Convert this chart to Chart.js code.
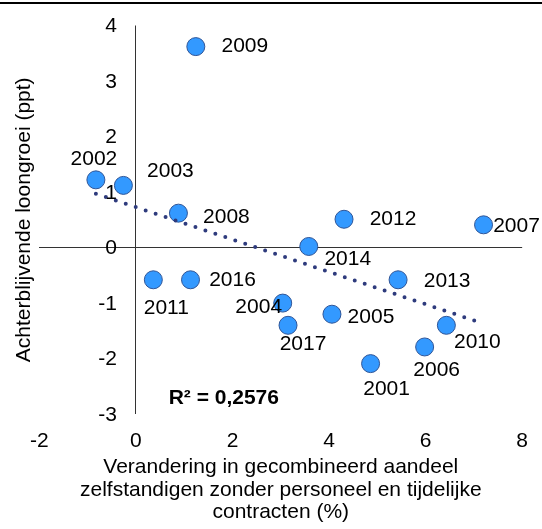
<!DOCTYPE html>
<html>
<head>
<meta charset="utf-8">
<script src="https://cdn.jsdelivr.net/npm/chart.js@4/dist/chart.umd.min.js"></script>
<style>
  html, body { margin: 0; padding: 0; background: #fff; }
  #wrap { width: 542px; height: 529px; position: relative; }
</style>
</head>
<body>
<div id="wrap"><canvas id="chart"></canvas></div>
<script>
// values
const years = ['2001', '2002', '2003', '2004', '2005', '2006', '2007', '2008',
               '2009', '2010', '2011', '2012', '2013', '2014', '2016', '2017'];
const shareChange = [4.86, -0.83, -0.26, 3.04, 4.06, 5.98, 7.20, 0.88,
                     1.24, 6.43, 0.36, 4.31, 5.43, 3.58, 1.13, 3.15];
const wageGap = [-2.09, 1.22, 1.12, -1.00, -1.20, -1.79, 0.41, 0.62,
                 3.62, -1.40, -0.58, 0.51, -0.58, 0.02, -0.58, -1.40];
const trendX = [-0.83, 7.20];
const trendY = [0.97, -1.37];
const rSquared = 'R² = 0,2576';

const FONT = '"Liberation Sans", Arial, sans-serif';

// where each year label sits relative to its point (px)
const labelOffset = {
  '2001': [16, 26], '2002': [-2, -21], '2003': [47, -14], '2004': [-24, 4],
  '2005': [39, 3],  '2006': [12, 23],  '2007': [33, 1],   '2008': [48, 4],
  '2009': [49, 0],  '2010': [31, 17],  '2011': [13, 28],  '2012': [49, 0],
  '2013': [49, 1],  '2014': [39, 13],  '2016': [42, 0],   '2017': [15, 19]
};

const extras = {
  id: 'extras',
  beforeDraw(chart) {
    const ctx = chart.ctx;
    ctx.save();
    ctx.fillStyle = '#000';
    ctx.fillRect(0, 2, chart.width, 2);
    ctx.restore();
  },
  afterDraw(chart) {
    const ctx = chart.ctx;
    const area = chart.chartArea;
    const xs = chart.scales.x, ys = chart.scales.y;
    ctx.save();
    ctx.fillStyle = '#000';
    ctx.font = '21px ' + FONT;
    // y tick labels sit next to the vertical axis at x = 0
    ctx.textAlign = 'right';
    ctx.textBaseline = 'middle';
    const x0 = xs.getPixelForValue(0);
    ys.ticks.forEach(t => {
      ctx.fillText(String(t.value), x0 - 19, ys.getPixelForValue(t.value) + 1);
    });
    ctx.textAlign = 'center';
    const meta = chart.getDatasetMeta(1);
    meta.data.forEach((pt, i) => {
      const off = labelOffset[years[i]] || [40, 0];
      ctx.fillText(years[i], pt.x + off[0], pt.y + off[1]);
    });
    ctx.font = 'bold 21px ' + FONT;
    ctx.fillText(rSquared, xs.getPixelForValue(1.82), ys.getPixelForValue(-2.71));
    // y axis title, far left
    ctx.font = '21px ' + FONT;
    ctx.translate(24, (area.top + area.bottom) / 2);
    ctx.rotate(-Math.PI / 2);
    ctx.fillText('Achterblijvende loongroei (ppt)', 0, 0);
    ctx.restore();
  }
};

const zeroLine = ctx => ctx.tick && ctx.tick.value === 0 ? '#333' : 'rgba(0,0,0,0)';

new Chart(document.getElementById('chart'), {
  type: 'scatter',
  data: {
    datasets: [{
      type: 'line',
      label: 'Trend',
      data: trendX.map((x, i) => ({x: x, y: trendY[i]})),
      borderColor: '#2E3B7D',
      borderWidth: 4,
      borderDash: [0, 10.5],
      borderCapStyle: 'round',
      pointRadius: 0,
      fill: false,
      order: 0
    }, {
      label: 'Jaren',
      data: shareChange.map((x, i) => ({x: x, y: wageGap[i]})),
      backgroundColor: '#3399FF',
      borderColor: '#2F5597',
      borderWidth: 1,
      pointRadius: 9,
      order: 1
    }]
  },
  options: {
    responsive: true,
    maintainAspectRatio: false,
    animation: false,
    layout: { padding: { left: 39.4, right: 19.6, top: 25.5, bottom: 0 } },
    plugins: { legend: { display: false }, tooltip: { enabled: false } },
    scales: {
      x: {
        type: 'linear',
        min: -2, max: 8,
        grid: { drawTicks: false, color: zeroLine, lineWidth: 1 },
        border: { display: false },
        ticks: { stepSize: 2, padding: 14, color: '#000', font: { family: FONT, size: 21 } },
        title: {
          display: true,
          text: ['Verandering in gecombineerd aandeel', 'zelfstandigen zonder personeel en tijdelijke', 'contracten (%)'],
          color: '#000',
          font: { family: FONT, size: 21, lineHeight: 1.07 },
          padding: { top: -11, bottom: 5.25 }
        }
      },
      y: {
        type: 'linear',
        min: -3, max: 4,
        grid: { drawTicks: false, color: zeroLine, lineWidth: 1 },
        border: { display: false },
        ticks: { stepSize: 1, display: false }
      }
    }
  },
  plugins: [extras]
});
</script>
</body>
</html>
